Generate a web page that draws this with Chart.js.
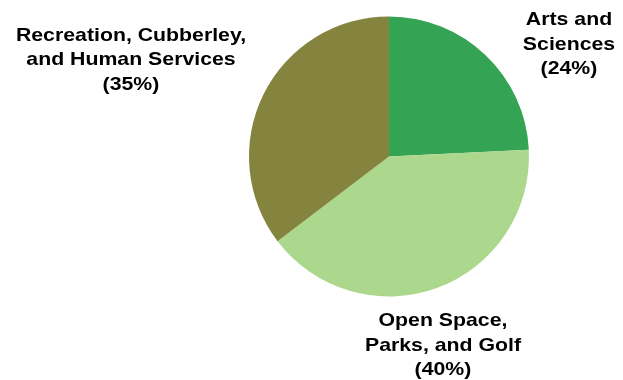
<!DOCTYPE html>
<html>
<head>
<meta charset="utf-8">
<script src="https://cdn.jsdelivr.net/npm/chart.js@4/dist/chart.umd.min.js"></script>
<style>
  html, body { margin: 0; padding: 0; background: #ffffff; }
  #wrap { width: 623px; height: 380px; position: relative; }
</style>
</head>
<body>
<div id="wrap"><canvas id="c" width="623" height="380"></canvas></div>
<script>
// Share of department budget by area
const categories = ['Arts and Sciences', 'Open Space, Parks, and Golf', 'Recreation, Cubberley, and Human Services'];
const shares = [24, 40, 35];
const labelLines = [
  ['Arts and', 'Sciences'],
  ['Open Space,', 'Parks, and Golf'],
  ['Recreation, Cubberley,', 'and Human Services']
];
const colors = ['#34a353', '#acd88e', '#84843e'];

// Centre x and first baseline y of each slice's label block
const labelAnchors = [
  { x: 569, y: 25 },
  { x: 443, y: 326 },
  { x: 131, y: 40.5 }
];

const sliceLabels = {
  id: 'sliceLabels',
  afterDatasetsDraw(chart) {
    const ctx = chart.ctx;
    const data = chart.data.datasets[0].data;
    const sx = 1.12; // slightly widened lettering
    ctx.save();
    ctx.fillStyle = '#000000';
    ctx.font = 'bold 19px "Liberation Sans", Arial, sans-serif';
    ctx.textAlign = 'center';
    ctx.textBaseline = 'alphabetic';
    data.forEach((v, i) => {
      const a = labelAnchors[i];
      const lines = labelLines[i].concat(['(' + v + '%)']);
      lines.forEach((t, k) => {
        ctx.save();
        ctx.translate(a.x, a.y + k * 24.5);
        ctx.scale(sx, 1);
        ctx.fillText(t, 0, 0);
        ctx.restore();
      });
    });
    ctx.restore();
  }
};

new Chart(document.getElementById('c'), {
  type: 'pie',
  data: {
    labels: categories,
    datasets: [{
      data: shares,
      backgroundColor: colors,
      borderWidth: 0
    }]
  },
  options: {
    responsive: false,
    animation: false,
    layout: { padding: { left: 249, right: 94, top: 16.5, bottom: 83.5 } },
    plugins: {
      legend: { display: false },
      tooltip: { enabled: false }
    }
  },
  plugins: [sliceLabels]
});
</script>
</body>
</html>
